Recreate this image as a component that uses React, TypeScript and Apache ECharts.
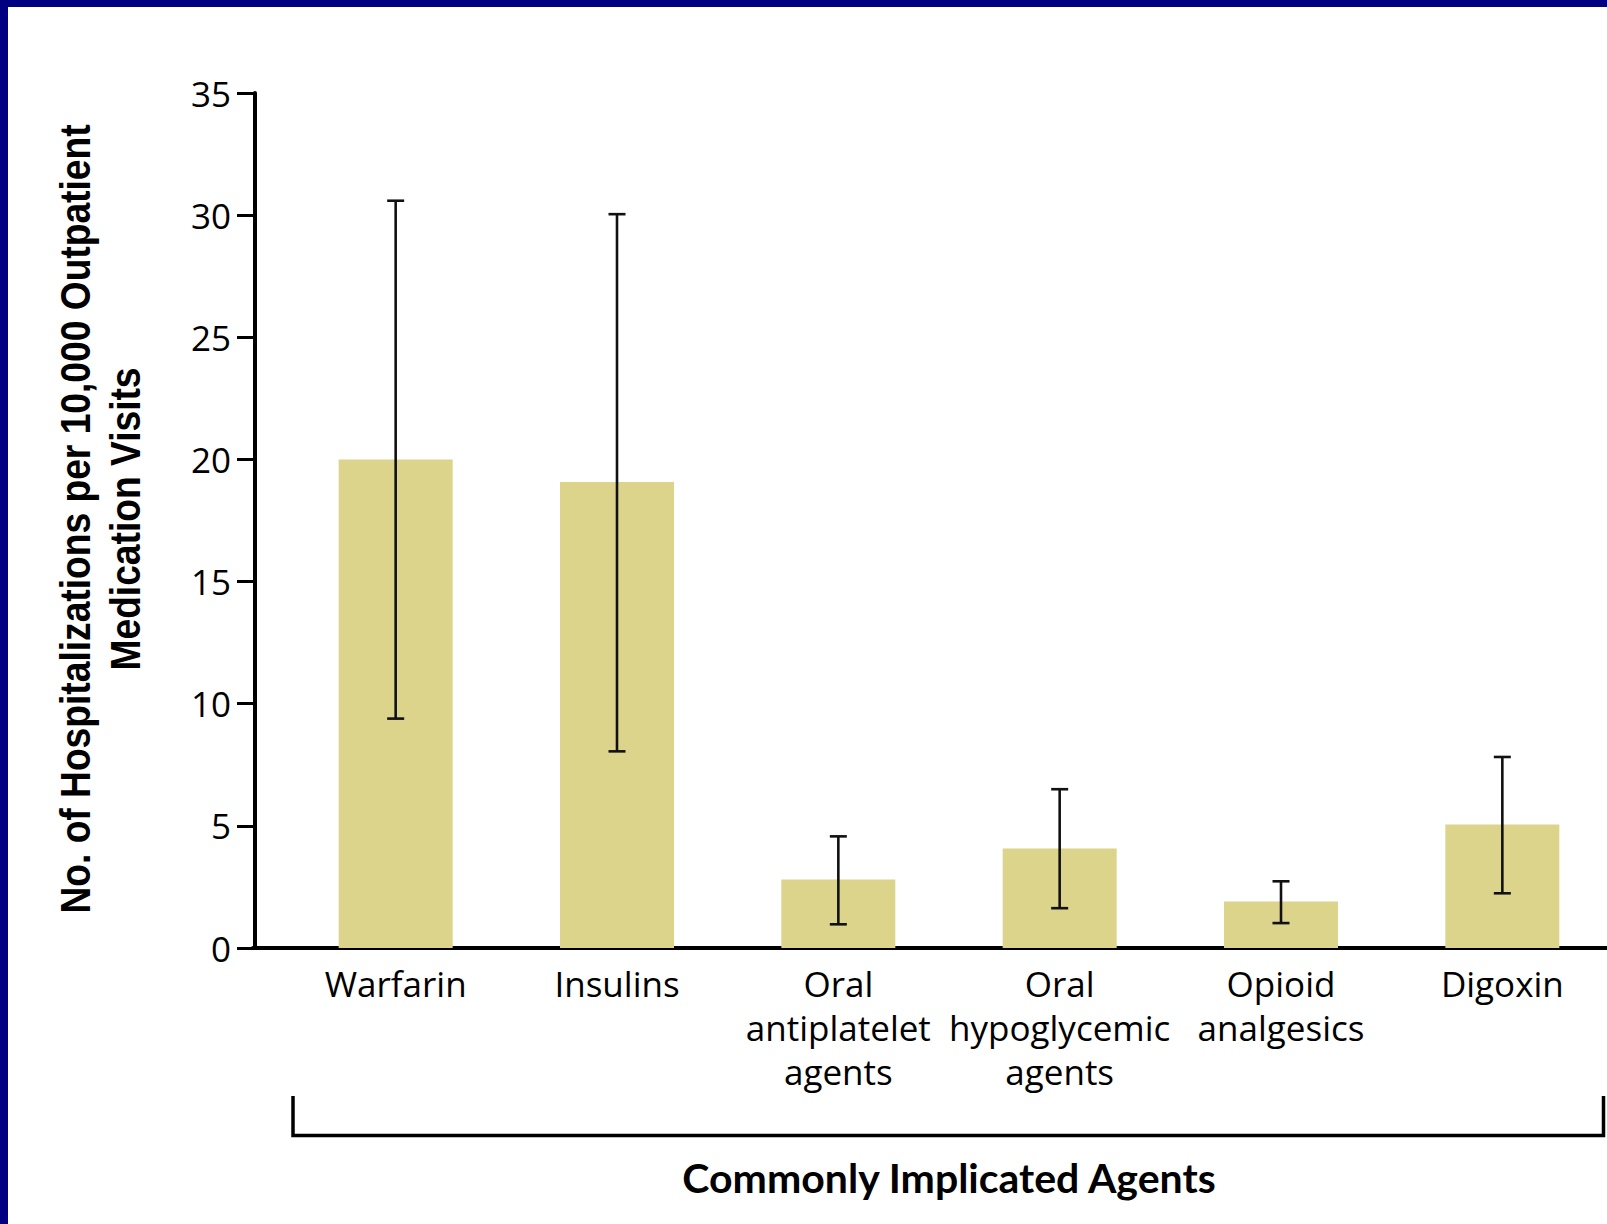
import React, { useEffect, useRef } from "react";
import * as echarts from "echarts";

const categories = [
  "Warfarin",
  "Insulins",
  "Oral\nantiplatelet\nagents",
  "Oral\nhypoglycemic\nagents",
  "Opioid\nanalgesics",
  "Digoxin",
];
const rates = [20.0, 19.08, 2.8, 4.07, 1.9, 5.06];
const ciLow = [9.39, 8.05, 0.97, 1.63, 1.02, 2.24];
const ciHigh = [30.59, 30.04, 4.57, 6.5, 2.73, 7.82];
const yTicks = { min: 0, max: 35, interval: 5 };
const yTitle = "No. of Hospitalizations per 10,000 Outpatient\nMedication Visits";
const xTitle = "Commonly Implicated Agents";

const W = 1607;
const H = 1224;
const CW = 1613; // chart canvas a bit wider than the page; clipped by wrapper

export default function App() {
  const ref = useRef<HTMLDivElement>(null);
  useEffect(() => {
    if (!ref.current) return;
    const chart = echarts.init(ref.current, undefined, { renderer: "svg" });
    const errData = categories.map((_, i) => [i, ciLow[i], ciHigh[i]]);
    chart.setOption({
      animation: false,
      backgroundColor: "#ffffff",
      grid: [
        { left: 285, right: 0, top: 93, bottom: 276 },
        { left: 253, right: CW - W, top: 93, bottom: 276 },
      ],
      xAxis: [
        {
          type: "category",
          gridIndex: 0,
          data: categories,
          axisLine: { show: false },
          axisTick: { show: false },
          axisLabel: {
            color: "#000",
            fontFamily: "'Open Sans', sans-serif",
            fontSize: 35,
            lineHeight: 44,
            margin: 13,
            interval: 0,
          },
          name: xTitle,
          nameLocation: "middle",
          nameGap: 204,
          nameTextStyle: {
            color: "#000",
            fontFamily: "Lato, 'Open Sans', sans-serif",
            fontWeight: "bold",
            fontSize: 41,
            lineHeight: 50,
          },
        },
        {
          type: "value",
          gridIndex: 1,
          min: 0,
          max: 1,
          axisLine: { show: true, lineStyle: { color: "#000", width: 4 } },
          axisTick: { show: false },
          axisLabel: { show: false },
          splitLine: { show: false },
        },
      ],
      yAxis: [
        {
          type: "value",
          gridIndex: 0,
          min: yTicks.min,
          max: yTicks.max,
          interval: yTicks.interval,
          offset: 30,
          axisLine: { show: true, lineStyle: { color: "#000", width: 4 } },
          axisTick: { show: true, length: 18, lineStyle: { color: "#000", width: 3 } },
          axisLabel: {
            color: "#000",
            fontFamily: "'Open Sans', sans-serif",
            fontSize: 35,
            margin: 24,
          },
          splitLine: { show: false },
        },
        { type: "value", gridIndex: 1, show: false, min: 0, max: 1 },
      ],
      series: [
        {
          type: "bar",
          xAxisIndex: 0,
          yAxisIndex: 0,
          data: rates,
          barWidth: 114,
          itemStyle: { color: "#dcd48b" },
        },
        {
          type: "custom",
          xAxisIndex: 0,
          yAxisIndex: 0,
          data: errData,
          encode: { x: 0, y: [1, 2] },
          z: 10,
          renderItem: (_params: any, api: any) => {
            const x = api.value(0);
            const lo = api.coord([x, api.value(1)]);
            const hi = api.coord([x, api.value(2)]);
            const half = 8.5;
            const style = { stroke: "#111", lineWidth: 2.6 };
            return {
              type: "group",
              children: [
                { type: "line", shape: { x1: lo[0], y1: lo[1], x2: hi[0], y2: hi[1] }, style },
                { type: "line", shape: { x1: lo[0] - half, y1: lo[1], x2: lo[0] + half, y2: lo[1] }, style },
                { type: "line", shape: { x1: hi[0] - half, y1: hi[1], x2: hi[0] + half, y2: hi[1] }, style },
              ],
            };
          },
        },
      ],
      graphic: [
        { type: "rect", shape: { x: 0, y: 0, width: CW, height: 7 }, style: { fill: "#000080" }, z: 100 },
        { type: "rect", shape: { x: 0, y: 0, width: 8, height: H }, style: { fill: "#000080" }, z: 100 },
        {
          type: "polyline",
          shape: { points: [[293, 1096], [293, 1135.5], [1603.5, 1135.5], [1603.5, 1096]] },
          style: { stroke: "#000", lineWidth: 3.5, fill: null },
        },
        {
          type: "text",
          x: 101,
          y: 519,
          rotation: Math.PI / 2,
          scaleX: 0.865,
          style: {
            text: yTitle,
            fill: "#000",
            fontFamily: "'Liberation Sans', Arial, sans-serif",
            fontWeight: "bold",
            fontSize: 43,
            lineHeight: 50,
            align: "center",
            verticalAlign: "middle",
          },
        },
      ],
    });
    return () => chart.dispose();
  }, []);
  return (
    <div
      style={{
        position: "absolute",
        left: 0,
        top: 0,
        width: W,
        height: H,
        overflow: "hidden",
        background: "#fff",
      }}
    >
      <div ref={ref} style={{ width: CW, height: H }} />
    </div>
  );
}
